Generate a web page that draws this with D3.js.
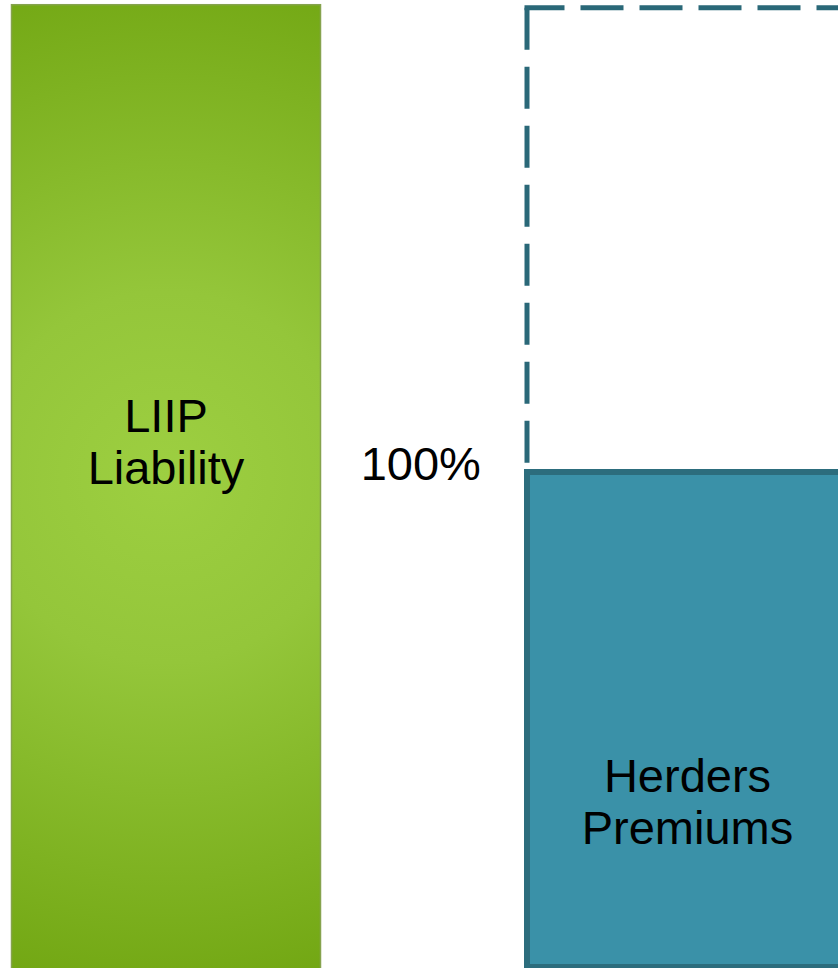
<!DOCTYPE html>
<html><head><meta charset="utf-8">
<script src="https://cdn.jsdelivr.net/npm/d3@7"></script>
<style>html,body{margin:0;padding:0;background:#fff;overflow:hidden}</style>
</head><body>
<svg id="chart" width="838" height="968"></svg>
<script>
// Data
const categories = ["LIIP Liability", "100%", "Herders Premiums"];
const labelLines = [["LIIP", "Liability"], [], ["Herders", "Premiums"]];
const barValues = [194.4, null, 100];       // solid bars (% of herder premiums)
const outlineValues = [null, null, 193.8];  // dashed outline (total)
const refValue = 100;                        // "100%" reference label

const svg = d3.select("#chart");
const W = 838, H = 968;

const x = d3.scalePoint().domain(categories).range([166, 687.5]);
const y = d3.scaleLinear().domain([0, 100]).range([967, 472]);

const widths = {"LIIP Liability": 309, "Herders Premiums": 321};
const font = "'Liberation Sans', Arial, sans-serif";

const defs = svg.append("defs");
const grad = defs.append("radialGradient").attr("id", "gGreen")
  .attr("gradientUnits", "userSpaceOnUse")
  .attr("cx", x(categories[0])).attr("cy", y(99)).attr("r", 530);
grad.append("stop").attr("offset", "0%").attr("stop-color", "#9dcf41");
grad.append("stop").attr("offset", "35%").attr("stop-color", "#94c63a");
grad.append("stop").attr("offset", "100%").attr("stop-color", "#71a612");

// LIIP liability bar
const c0 = categories[0];
svg.append("rect")
  .attr("x", x(c0) - widths[c0] / 2)
  .attr("y", y(barValues[0]))
  .attr("width", widths[c0])
  .attr("height", y(0) - y(barValues[0]) + 4)
  .attr("fill", "url(#gGreen)")
  .attr("stroke", "#86a34e").attr("stroke-width", 1.5);

// Herders premiums bar
const c2 = categories[2];
const left2 = x(c2) - widths[c2] / 2;
svg.append("rect")
  .attr("x", left2)
  .attr("y", y(barValues[2]))
  .attr("width", widths[c2])
  .attr("height", y(0) - y(barValues[2]))
  .attr("fill", "#3a91a8")
  .attr("stroke", "#2c6d7d").attr("stroke-width", 6);

// dashed outline (top and left sides from the corner)
const topY = y(outlineValues[2]);
svg.append("line")
  .attr("x1", left2).attr("y1", topY).attr("x2", left2).attr("y2", y(barValues[2]))
  .attr("stroke", "#2a6878").attr("stroke-width", 5)
  .attr("stroke-dasharray", "42,17");
svg.append("line")
  .attr("x1", left2 - 2.5).attr("y1", topY).attr("x2", left2 + widths[c2]).attr("y2", topY)
  .attr("stroke", "#2a6878").attr("stroke-width", 5)
  .attr("stroke-dasharray", "43,16").attr("stroke-dashoffset", 3);

// bar labels
[0, 2].forEach(i => {
  const c = categories[i];
  const lines = labelLines[i];
  const base = i === 0 ? 432 : 792;
  const t = svg.append("text")
    .attr("text-anchor", "middle")
    .attr("font-family", font).attr("font-size", 47).attr("fill", "#000");
  lines.forEach((l, k) => t.append("tspan").attr("x", x(c)).attr("y", base + k * 52).text(l));
});

// 100% label
svg.append("text")
  .attr("x", x(categories[1]) - 6).attr("y", y(refValue) + 8)
  .attr("text-anchor", "middle")
  .attr("font-family", font).attr("font-size", 47).attr("fill", "#000")
  .text(refValue + "%");
</script>
</body></html>
